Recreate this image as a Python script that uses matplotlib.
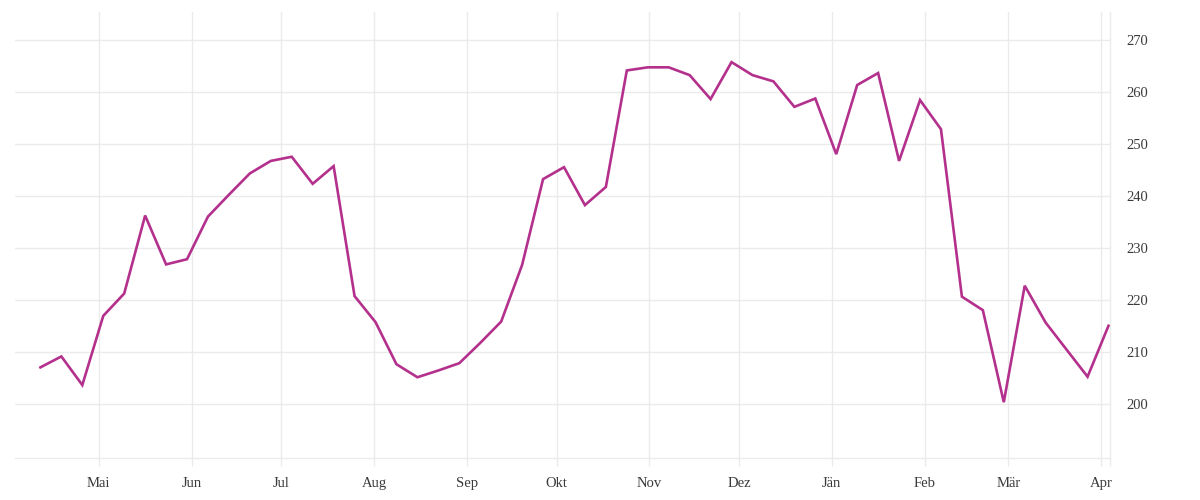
import matplotlib
matplotlib.use('Agg')
import matplotlib.pyplot as plt
import pandas as pd

# ---- data ----
start_date = '2022-04-11 12:00'
values = [207.1, 209.2, 203.7, 217.0, 221.3, 236.3, 226.9, 227.9, 236.1, 240.3,
          244.4, 246.8, 247.6, 242.4, 245.8, 220.8, 215.8, 207.7, 205.2, 206.5,
          207.9, 211.8, 215.9, 226.8, 243.3, 245.6, 238.3, 241.8, 264.2, 264.8,
          264.8, 263.3, 258.7, 265.8, 263.3, 262.1, 257.2, 258.8, 248.1, 261.4,
          263.7, 246.8, 258.5, 252.9, 220.7, 218.1, 200.4, 222.8, 215.7, 210.5,
          205.3, 215.1]
month_labels = ['Mai', 'Jun', 'Jul', 'Aug', 'Sep', 'Okt', 'Nov', 'Dez',
                'Jän', 'Feb', 'Mär', 'Apr']
y_ticks = [200, 210, 220, 230, 240, 250, 260, 270]

dates = pd.date_range(start_date, periods=len(values), freq='7D')
month_ticks = pd.date_range('2022-05-01', periods=len(month_labels), freq='MS')

plt.rcParams['font.family'] = ['Liberation Serif', 'DejaVu Serif']

grid_col = '#ebebeb'
line_col = '#b3308c'
text_col = '#3a3a3a'

fig = plt.figure(figsize=(12, 5), dpi=100)
ax = fig.add_axes([0.0125, 0.084, 0.9125, 0.892])

ax.plot(dates, values, color=line_col, lw=1.9, solid_joinstyle='miter', zorder=3)

ax.set_xlim(pd.Timestamp('2022-04-03'), pd.Timestamp('2023-04-04'))
ax.set_ylim(189.67, 275.44)

ax.set_xticks(month_ticks)
ax.set_xticklabels(month_labels)
ax.set_xticks([pd.Timestamp('2023-04-04')], minor=True)
ax.set_yticks(y_ticks)
ax.yaxis.tick_right()

ax.tick_params(axis='x', which='both', length=6, width=1, color=grid_col,
               labelsize=10.5, labelcolor=text_col, pad=8)
ax.tick_params(axis='y', length=0, labelsize=10.5, labelcolor=text_col, pad=12)
for lbl in ax.get_yticklabels():
    lbl.set_va('center_baseline')

ax.grid(True, which='major', color=grid_col, lw=1)
ax.set_axisbelow(True)

for s in ['left', 'top']:
    ax.spines[s].set_visible(False)
for s in ['bottom', 'right']:
    ax.spines[s].set_color(grid_col)
    ax.spines[s].set_linewidth(1)

fig.savefig('out.png', dpi=100, facecolor='white')
